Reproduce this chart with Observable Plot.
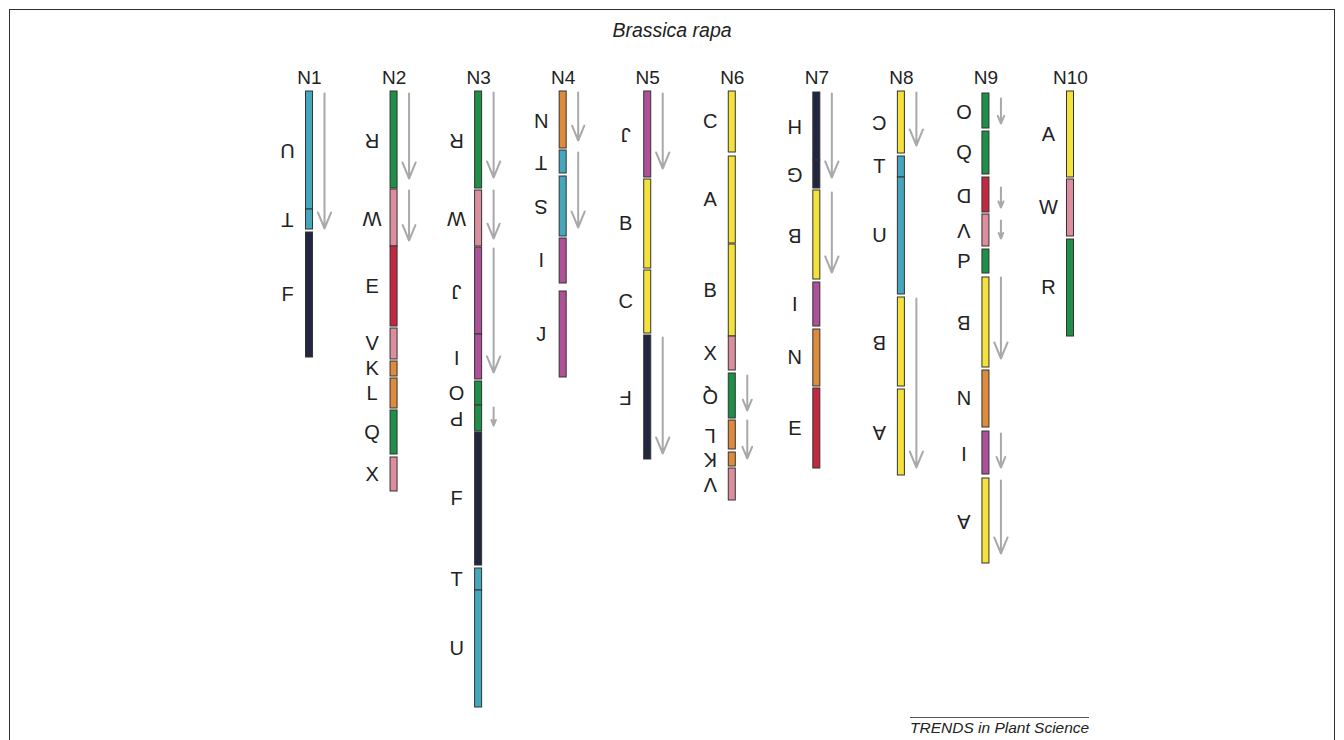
<!DOCTYPE html>
<html><head><meta charset="utf-8">
<script src="https://cdn.jsdelivr.net/npm/d3@7"></script>
<script src="https://cdn.jsdelivr.net/npm/@observablehq/plot@0.6"></script>
<style>
body{margin:0;background:#fff;overflow:hidden;font-family:"Liberation Sans",Arial,Helvetica,sans-serif}
#wrap{position:relative;width:1344px;height:740px;overflow:hidden}
#frame{position:absolute;left:9px;top:9px;width:1326px;height:780px;border:1.6px solid #2e2e2e;box-sizing:border-box}
#title{position:absolute;left:0;width:1344px;top:19px;text-align:center;font-style:italic;font-size:19.5px;color:#222}
#chart{position:absolute;left:0;top:0}
#foot{position:absolute;left:910px;top:717px;border-top:1.3px solid #555;font-style:italic;font-size:15.5px;line-height:18px;padding-top:1px;color:#222}
</style>
</head>
<body>
<div id="wrap">
  <div id="frame"></div>
  <div id="title">Brassica rapa</div>
  <div id="chart"></div>
  <div id="foot">TRENDS in Plant Science</div>
</div>
<script>
// Chromosomes of Brassica rapa
const chromosomes = ["N1","N2","N3","N4","N5","N6","N7","N8","N9","N10"];

// Ancestral karyotype blocks and their colours
const blockLetters = ["A","B","C","D","E","F","G","H","I","J","K","L","N","O","P","Q","R","S","T","U","V","W","X"];
const blockColors  = ["#f4e13b","#f4e13b","#f4e13b","#c42840","#c42840","#22263f","#22263f","#22263f",
                      "#ae5198","#ae5198","#de8b3c","#de8b3c","#de8b3c","#1f8f48","#1f8f48","#1f8f48","#1f8f48",
                      "#45a7bb","#45a7bb","#45a7bb","#dc8d9e","#dc8d9e","#dc8d9e"];

// Segments per chromosome: [block, start, end, inverted(1/0)] in relative chromosome units
const N1  = [["U",0,118,1],["T",118,138,1],["F",141,266,0]];
const N2  = [["R",0,97,1],["W",98,155,1],["E",155,235,0],["V",237,268,0],["K",270,285,0],["L",287,317,0],["Q",319,363,0],["X",366,400,0]];
const N3  = [["R",0,97,1],["W",99,155,1],["J",156,243,1],["I",243,288,1],["O",290,314,0],["P",314,340,1],["F",341,474,0],["T",477,499,0],["U",499,616,0]];
const N4  = [["N",0,57,1],["T",59,82,1],["S",85,145,1],["I",147,192,0],["J",200,286,0]];
const N5  = [["J",0,86,1],["B",88,177,0],["C",179,242,0],["F",244,368,1]];
const N6  = [["C",0,61,0],["A",65,152,0],["B",153,245,0],["X",245,279,0],["Q",282,327,1],["L",329,358,1],["K",361,375,1],["V",377,409,1]];
const N7  = [["H",1,69,1],["G",69,97,1],["B",99,188,1],["I",191,235,0],["N",238,295,0],["E",297,377,0]];
const N8  = [["C",0,62,1],["T",65,86,0],["U",86,203,0],["B",206,295,1],["A",298,384,1]];
const N9  = [["O",2,37,1],["Q",40,83,0],["D",86,121,1],["V",123,155,1],["P",158,182,0],["B",186,276,1],["N",279,336,0],["I",340,383,1],["A",387,472,1]];
const N10 = [["A",0,86,0],["W",88,145,0],["R",148,245,0]];

// Orientation arrows per chromosome: [start, end]
const arrowsN1 = [[2,137]];
const arrowsN2 = [[2,87],[99,149]];
const arrowsN3 = [[1,86],[99,147],[157,281],[316,334]];
const arrowsN4 = [[1,49],[61,136]];
const arrowsN5 = [[2,77],[246,362]];
const arrowsN6 = [[284,319],[329,367]];
const arrowsN7 = [[2,86],[101,181]];
const arrowsN8 = [[1,54],[207,376]];
const arrowsN9 = [[7,32],[96,116],[129,147],[186,267],[342,376],[389,462]];
const arrowsN10 = [];

const segLists = [N1,N2,N3,N4,N5,N6,N7,N8,N9,N10];
const arrowLists = [arrowsN1,arrowsN2,arrowsN3,arrowsN4,arrowsN5,arrowsN6,arrowsN7,arrowsN8,arrowsN9,arrowsN10];

const segments = segLists.flatMap((list, i) => list.map(([block, start, end, inv]) => ({chr: chromosomes[i], block, start, end, inv: !!inv})));
const arrows = arrowLists.flatMap((list, i) => list.map(([start, end]) => ({chr: chromosomes[i], start, end})));

const chart = Plot.plot({
  width: 1344,
  height: 740,
  marginTop: 91,
  marginBottom: 29,
  marginLeft: 0,
  marginRight: 0,
  style: {fontFamily: '"Liberation Sans", Arial, Helvetica, sans-serif', background: "transparent", overflow: "visible"},
  x: {type: "band", domain: chromosomes, range: [305.5, 1073.5], paddingInner: 0.917, paddingOuter: 0, round: false, axis: null},
  y: {domain: [0, 620], reverse: true, axis: null},
  color: {type: "ordinal", domain: blockLetters, range: blockColors},
  marks: [
    Plot.arrow(arrows, {x: "chr", y1: "start", y2: "end", dx: 15, stroke: "#a9a9a9", strokeWidth: 2, headLength: 13, headAngle: 45}),
    Plot.barY(segments, {x: "chr", y1: "start", y2: "end", fill: "block", stroke: "#333", strokeWidth: 1}),
    Plot.text(segments, {x: "chr", y: d => (d.start + d.end) / 2, text: "block", rotate: d => d.inv ? 180 : 0, dx: -22, fontSize: 20, fill: "#222"}),
    Plot.text(chromosomes, {x: d => d, text: d => d, frameAnchor: "top", lineAnchor: "middle", dy: -14, fontSize: 19, fill: "#222"})
  ]
});
document.getElementById("chart").appendChild(chart);
</script>
</body></html>
